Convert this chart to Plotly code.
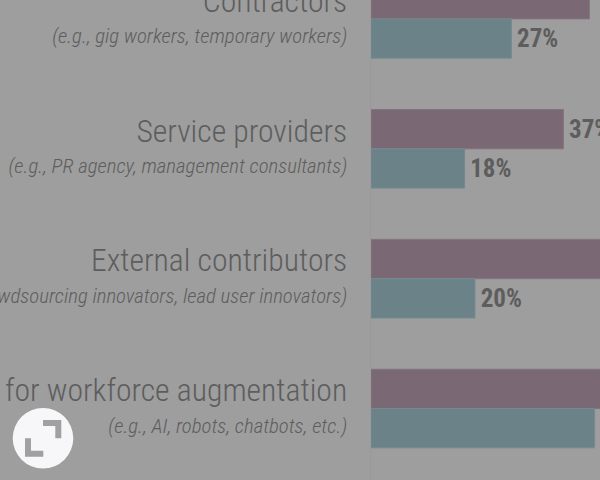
import plotly.graph_objects as go

categories = ["Contractors", "Service providers", "External contributors", "Tools for workforce augmentation"]
examples = [
    "(e.g., gig workers, temporary workers)",
    "(e.g., PR agency, management consultants)",
    "(e.g., crowdsourcing innovators, lead user innovators)",
    "(e.g., AI, robots, chatbots, etc.)",
]
purple_values = [42, 37, 49, 55]
teal_values = [27, 18, 20, 43]

PURPLE = "#7a6875"
TEAL = "#6b8388"
TEXT = "#5d5d5d"
BACK = "#9e9e9e"
FONT = "Roboto"

# two line labels, big name and small italic example
tick_text = [
    f'<span style="font-size:31.7px;font-stretch:75%">{c}</span><br>'
    f'<span style="font-size:20.8px;font-style:italic;font-stretch:75%">{e}</span>'
    for c, e in zip(categories, examples)
]


def bar_labels(values):
    # hair space keeps the number a bit away from the bar end
    return [f'<span style="font-stretch:75%">\u200a{v}%</span>' for v in values]


fig = go.Figure()
for name, values, color, edge in [
    ("purple", purple_values, PURPLE, "#84737f"),
    ("teal", teal_values, TEAL, "#748b90"),
]:
    fig.add_trace(
        go.Bar(
            name=name,
            y=categories,
            x=values,
            orientation="h",
            marker=dict(color=color, line=dict(color=edge, width=1)),
            text=bar_labels(values),
            textposition="outside",
            textfont=dict(family=FONT, size=25, color=TEXT, weight="bold"),
            cliponaxis=False,
        )
    )

fig.update_layout(
    width=600,
    height=480,
    margin=dict(l=0, r=0, t=0, b=0),
    barmode="group",
    bargap=0.395,
    bargroupgap=0,
    showlegend=False,
    paper_bgcolor=BACK,
    plot_bgcolor=BACK,
    font=dict(family=FONT, color=TEXT),
    xaxis=dict(domain=[371 / 600, 1], range=[0, 44.04], visible=False, automargin=False),
    yaxis=dict(
        type="category",
        automargin=False,
        categoryorder="array",
        categoryarray=categories,
        range=[3.55, -0.1455],
        tickmode="array",
        tickvals=categories,
        ticktext=tick_text,
        tickfont=dict(family=FONT, size=24, color=TEXT, weight=300),
        ticks="",
        ticklabelstandoff=18,
        showgrid=False,
        showline=True,
        linecolor="#999999",
        linewidth=1,
    ),
)


def corner_path(points):
    return "M " + " L ".join(f"{x / 600} {1 - y / 480}" for x, y in points) + " Z"


# expand button in the corner
fig.add_shape(type="circle", xref="paper", yref="paper", x0=12.7 / 600, x1=73.3 / 600, y0=1 - 468.5 / 480, y1=1 - 408 / 480,
              fillcolor="#f7f7f9", line_width=0)
fig.add_shape(type="path", xref="paper", yref="paper", fillcolor="#a0a0a0", line_width=0,
              path=corner_path([(43, 420), (61.3, 420), (61.3, 438.3), (55.3, 438.3), (55.3, 426), (43, 426)]))
fig.add_shape(type="path", xref="paper", yref="paper", fillcolor="#a0a0a0", line_width=0,
              path=corner_path([(25, 438.3), (31, 438.3), (31, 450.7), (43.3, 450.7), (43.3, 456.7), (25, 456.7)]))

# page margin would push the figure off the 600x480 window
fig.write_html(
    "out.html",
    config=dict(displayModeBar=False),
    post_script="document.body.style.margin='0';document.body.style.overflow='hidden';",
)
